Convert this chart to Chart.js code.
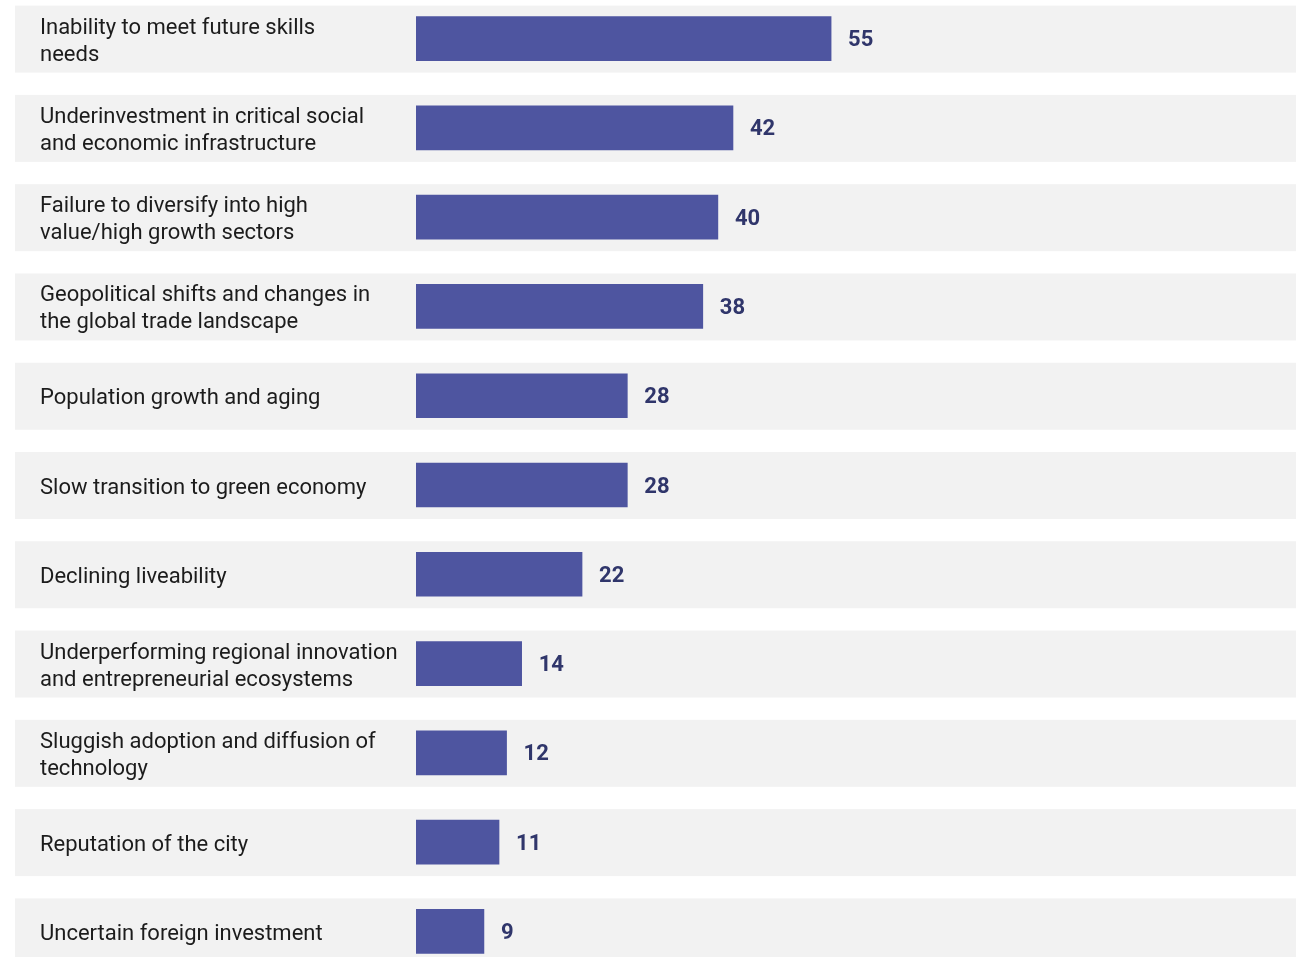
<!DOCTYPE html>
<html>
<head>
<meta charset="utf-8">
<script src="https://cdn.jsdelivr.net/npm/chart.js@4"></script>
<style>
  html, body { margin: 0; padding: 0; background: #fff; overflow: hidden; }
  #wrap { position: absolute; left: 0; top: -6px; width: 1303px; height: 982px; }
</style>
</head>
<body>
<div id="wrap"><canvas id="barChart"></canvas></div>
<script>
const categories = [
  ['Inability to meet future skills', 'needs'],
  ['Underinvestment in critical social', 'and economic infrastructure'],
  ['Failure to diversify into high', 'value/high growth sectors'],
  ['Geopolitical shifts and changes in', 'the global trade landscape'],
  'Population growth and aging',
  'Slow transition to green economy',
  'Declining liveability',
  ['Underperforming regional innovation', 'and entrepreneurial ecosystems'],
  ['Sluggish adoption and diffusion of', 'technology'],
  'Reputation of the city',
  'Uncertain foreign investment'
];
const values = [55, 42, 40, 38, 28, 28, 22, 14, 12, 11, 9];

const FONT = 'Roboto, "Noto Sans", sans-serif';

// grey band behind each row (drawn before the axis labels)
const rowBands = {
  id: 'rowBands',
  beforeDraw(chart) {
    const { ctx, scales: { y }, chartArea } = chart;
    ctx.save();
    ctx.fillStyle = '#f2f2f2';
    categories.forEach((_, i) => {
      const cy = y.getPixelForValue(i);
      ctx.fillRect(15, cy - 33, chartArea.right - 15, 67);
    });
    ctx.restore();
  }
};

// value text after the bar end
const valueLabels = {
  id: 'valueLabels',
  afterDatasetsDraw(chart) {
    const { ctx } = chart;
    const meta = chart.getDatasetMeta(0);
    ctx.save();
    ctx.fillStyle = '#30366b';
    ctx.font = 'bold 22px ' + FONT;
    ctx.textBaseline = 'middle';
    meta.data.forEach((bar, i) => {
      ctx.fillText(values[i], bar.x + 17, bar.y + 2);
    });
    ctx.restore();
  }
};

new Chart(document.getElementById('barChart'), {
  type: 'bar',
  data: {
    labels: categories,
    datasets: [{
      data: values,
      backgroundColor: '#4e55a0',
      borderWidth: 0,
      barThickness: 44
    }]
  },
  options: {
    indexAxis: 'y',
    responsive: true,
    maintainAspectRatio: false,
    animation: false,
    layout: { padding: { left: 40, right: 7, top: 0, bottom: 0 } },
    plugins: { legend: { display: false }, tooltip: { enabled: false } },
    scales: {
      x: {
        min: 0,
        max: 116.6,
        display: false
      },
      y: {
        grid: { display: false },
        border: { display: false },
        afterFit(scale) {
          scale.width = 376;
          scale.paddingTop = 0;
          scale.paddingBottom = 0;
        },
        ticks: {
          crossAlign: 'far',
          color: '#1c1c1c',
          padding: 0,
          labelOffset: 3,
          font: { family: FONT, size: 22, lineHeight: 1.23 }
        }
      }
    }
  },
  plugins: [rowBands, valueLabels]
});
</script>
</body>
</html>
